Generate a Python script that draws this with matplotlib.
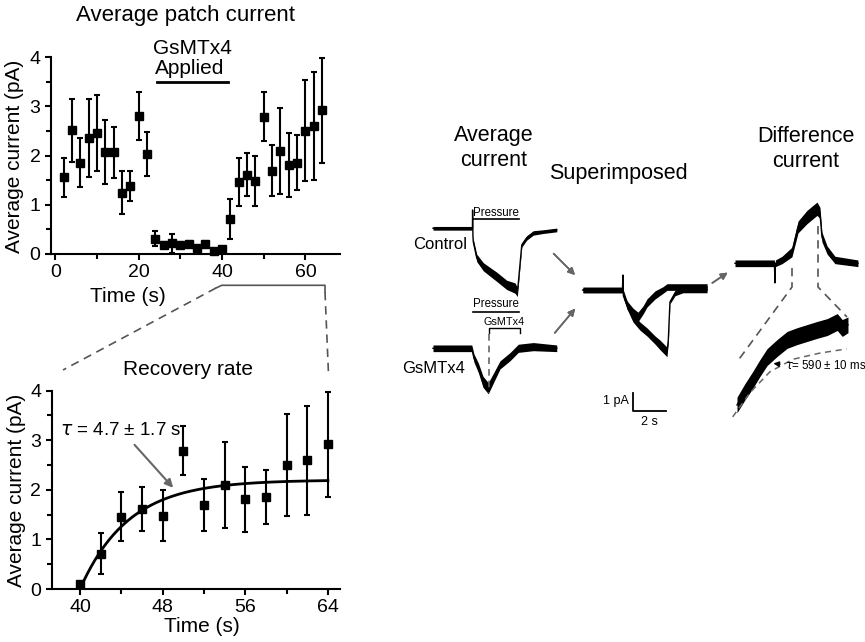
import numpy as np
import matplotlib
matplotlib.use('Agg')
import matplotlib.pyplot as plt
from matplotlib.lines import Line2D
from matplotlib.ticker import MultipleLocator

plt.rcParams['font.family'] = ['Liberation Sans', 'DejaVu Sans']
plt.rcParams['mathtext.fontset'] = 'dejavusans'

# Average patch current, one point every 2 s
time_s = [2, 4, 6, 8, 10, 12, 14, 16, 18, 20, 22, 24, 26, 28, 30, 32,
          34, 36, 38, 40, 42, 44, 46, 48, 50, 52, 54, 56, 58, 60, 62, 64]
current_pa = [1.56, 2.52, 1.86, 2.36, 2.46, 2.07, 2.07, 1.25, 1.38, 2.80, 2.03,
              0.31, 0.19, 0.22, 0.19, 0.20, 0.12, 0.21, 0.07, 0.10,
              0.71, 1.46, 1.61, 1.48, 2.79, 1.69, 2.10, 1.81, 1.86, 2.51, 2.60, 2.92]
error_pa = [0.40, 0.64, 0.50, 0.79, 0.78, 0.65, 0.52, 0.43, 0.30, 0.49, 0.45,
            0.15, 0.06, 0.19, 0.06, 0.06, 0.05, 0.06, 0.04, 0.05,
            0.41, 0.49, 0.44, 0.51, 0.50, 0.52, 0.87, 0.66, 0.55, 1.03, 1.10, 1.06]
applied_window = (24.5, 41.5)

# Recovery fit
recovery_start = 40
fit_amp = 2.2
fit_tau = 4.7

# Recorded traces (time s, current pA rel. to baseline, noise half-width pA)
ctrl_t = [0, 2.39, 2.40, 2.42, 2.44, 2.65, 3.05, 3.86, 4.47, 4.97, 5.11, 5.17, 5.38, 5.68, 6.08, 6.68, 7.50]
ctrl_i = [0, 0, 0.99, -0.42, -0.72, -1.60, -2.08, -2.62, -3.06, -3.23, -3.44, -2.96, -0.90, -0.52, -0.25, -0.18, -0.09]
ctrl_w = [0.1, 0.1, 0, 0.1, 0.15, 0.2, 0.22, 0.25, 0.25, 0.28, 0.25, 0.15, 0.12, 0.12, 0.12, 0.1, 0.1]

gsm_t = [0, 2.35, 2.48, 2.75, 3.03, 3.35, 3.66, 4.06, 4.67, 5.17, 6.08, 7.50]
gsm_i = [0, 0, -0.52, -1.06, -1.81, -2.16, -1.61, -0.90, -0.45, 0, 0.09, 0]
gsm_w = [0.18, 0.18, 0.22, 0.26, 0.3, 0.3, 0.26, 0.22, 0.22, 0.22, 0.22, 0.18]

sup_ctrl_t = [0, 2.39, 2.42, 2.45, 2.67, 3.03, 3.45, 3.88, 4.36, 4.67, 5.09, 5.17, 5.27, 5.58, 6.06, 7.52]
sup_ctrl_i = [0, 0, 0.81, -0.32, -0.81, -1.51, -1.95, -2.27, -2.70, -2.97, -3.35, -2.70, -0.65, -0.16, 0, 0]
sup_ctrl_w = [0.15, 0.15, 0, 0.15, 0.22, 0.22, 0.22, 0.22, 0.22, 0.26, 0.26, 0.15, 0.1, 0.15, 0.15, 0.15]

sup_gsm_t = [0, 2.39, 2.67, 3.03, 3.33, 3.64, 3.88, 4.36, 4.85, 5.09, 7.52]
sup_gsm_i = [0, 0, -0.81, -1.24, -1.46, -1.08, -0.70, -0.27, 0, 0.16, 0.16]
sup_gsm_w = [0.15, 0.15, 0.22, 0.26, 0.26, 0.22, 0.22, 0.22, 0.18, 0.18, 0.18]

diff_t = [0, 2.39, 2.42, 2.45, 2.85, 3.45, 3.82, 4.36, 4.97, 5.15, 5.27, 5.58, 6.06, 7.45]
diff_i = [0, 0, -1.06, 0, 0.18, 0.61, 1.96, 2.50, 2.95, 2.72, 1.42, 0.72, 0.18, 0]
diff_w = [0.18, 0.18, 0, 0.18, 0.2, 0.26, 0.32, 0.36, 0.36, 0.3, 0.26, 0.22, 0.2, 0.18]

zoom_t = [0, 0.11, 0.22, 0.32, 0.42, 0.56, 0.70, 0.84, 0.98, 1.12, 1.26, 1.40, 1.47, 1.55]
zoom_i = [0.16, 0.58, 0.96, 1.34, 1.69, 1.98, 2.24, 2.36, 2.46, 2.56, 2.65, 2.81, 2.62, 2.72]
zoom_w = [0.25, 0.26, 0.27, 0.27, 0.27, 0.27, 0.27, 0.27, 0.27, 0.27, 0.27, 0.27, 0.27, 0.25]
zoomfit_t = [-0.06, 0.18, 0.46, 0.78, 1.16, 1.53]
zoomfit_i = [-0.22, 0.55, 1.22, 1.62, 1.82, 1.95]

pressure_on, pressure_off = 2.4, 5.2
toxin_on, toxin_off = 3.39, 5.27
scale_pa, scale_s = 1, 2

W, H = 865, 642
GRAY = '#666666'


def fp(x, y):
	# pixel (from top-left) -> figure fraction
	return x / W, 1 - y / H


def style(ax):
	for s in ['top', 'right']:
		ax.spines[s].set_visible(False)
	for s in ['left', 'bottom']:
		ax.spines[s].set_linewidth(1.5)
	ax.tick_params(which='both', direction='out', width=1.5, labelsize=14)
	ax.tick_params(which='major', length=4.5, pad=3)
	ax.tick_params(which='minor', length=3.5)
	ax.yaxis.set_major_locator(MultipleLocator(1))
	ax.yaxis.set_minor_locator(MultipleLocator(0.5))
	ax.set_ylim(0, 4)


def trace(ax, x0, y0, t, i, w, lw=1.0):
	t = x0 + np.array(t)
	i = y0 + np.array(i)
	w = np.array(w)
	ax.fill_between(t, i - w, i + w, color='k', lw=0)
	ax.plot(t, i, 'k', lw=lw)


def arrow(p0, p1, color=GRAY):
	fig.add_artist(plt.annotate('', xy=fp(*p1), xytext=fp(*p0), xycoords='figure fraction',
		textcoords='figure fraction',
		arrowprops=dict(arrowstyle='-|>', color=color, lw=1.2, mutation_scale=10)))


def fline(xs, ys, dashed=True):
	fx = [x / W for x in xs]
	fy = [1 - y / H for y in ys]
	fig.add_artist(Line2D(fx, fy, transform=fig.transFigure, color='#555555', lw=1.2,
		linestyle=(0, (5, 3.5)) if dashed else '-'))


fig = plt.figure(figsize=(W / 100, H / 100), dpi=100)

t_arr = np.array(time_s)
m_arr = np.array(current_pa)
e_arr = np.array(error_pa)

# --- top: average patch current ---
ax1 = fig.add_axes([50.8 / W, 1 - 254 / H, 289.6 / W, 196.7 / H])
style(ax1)
ax1.set_xlim(-1.1, 68.4)
ax1.xaxis.set_major_locator(MultipleLocator(20))
ax1.xaxis.set_minor_locator(MultipleLocator(10))
ax1.errorbar(t_arr, m_arr, yerr=e_arr, fmt='s', color='k', ms=5.5, elinewidth=1.5,
	capsize=2.5, capthick=1.5, clip_on=False)
ax1.plot(applied_window, [3.49, 3.49], 'k', lw=2, clip_on=False)

fig.text(*fp(185, 16), 'Average patch current', ha='center', va='center', fontsize=16)
fig.text(*fp(192, 48), 'GsMTx4', ha='center', va='center', fontsize=15)
fig.text(*fp(190, 68), 'Applied', ha='center', va='center', fontsize=15)
fig.text(*fp(128, 297), 'Time (s)', ha='center', va='center', fontsize=15)
fig.text(*fp(15, 156), 'Average current (pA)', ha='center', va='center', rotation=90, fontsize=15)

# --- bottom: recovery rate ---
ax2 = fig.add_axes([51.7 / W, 1 - 589 / H, 288.3 / W, 198.3 / H])
style(ax2)
ax2.set_xlim(37.26, 65.17)
ax2.xaxis.set_major_locator(MultipleLocator(8))
ax2.xaxis.set_minor_locator(MultipleLocator(4))
sel = t_arr >= recovery_start
ax2.errorbar(t_arr[sel], m_arr[sel], yerr=e_arr[sel], fmt='s', color='k', ms=5.5,
	elinewidth=1.5, capsize=2.5, capthick=1.5, clip_on=False)
tf = np.linspace(recovery_start, t_arr[-1], 200)
ax2.plot(tf, fit_amp * (1 - np.exp(-(tf - recovery_start) / fit_tau)), 'k', lw=2)
ax2.text(38.05, 3.2, r'$\tau$ = 4.7 ± 1.7 s', ha='left', va='center', fontsize=13.5)
ax2.annotate('', xy=(49.2, 2.0), xytext=(45.1, 2.95),
	arrowprops=dict(arrowstyle='-|>', color=GRAY, lw=1.5, mutation_scale=12))

fig.text(*fp(188, 370), 'Recovery rate', ha='center', va='center', fontsize=15)
fig.text(*fp(202, 627), 'Time (s)', ha='center', va='center', fontsize=15)
fig.text(*fp(17, 490), 'Average current (pA)', ha='center', va='center', rotation=90, fontsize=15)

# bracket + connectors
fline([216, 221.7, 325, 325], [288, 285.3, 285.3, 292], dashed=False)
fline([216, 63], [288, 370])
fline([325, 328.5], [292, 374])

# --- right: traces ---
axr = fig.add_axes([380 / W, 1 - 440 / H, 485 / W, 340 / H])
axr.axis('off')
px_s, px_pa = 16.5, 18.5
axr.set_xlim(0, 485 / px_s)
axr.set_ylim(0, 340 / px_pa)

ctrl_x0, ctrl_y0 = (433 - 380) / px_s, (440 - 228.3) / px_pa
gsm_x0, gsm_y0 = (433 - 380) / px_s, (440 - 348.3) / px_pa
sup_x0, sup_y0 = (583 - 380) / px_s, (440 - 290) / px_pa
diff_x0, diff_y0 = (735 - 380) / px_s, (440 - 263.3) / px_pa

trace(axr, ctrl_x0, ctrl_y0, ctrl_t, ctrl_i, ctrl_w)
trace(axr, gsm_x0, gsm_y0, gsm_t, gsm_i, gsm_w)
trace(axr, sup_x0, sup_y0, sup_ctrl_t, sup_ctrl_i, sup_ctrl_w)
trace(axr, sup_x0, sup_y0, sup_gsm_t, sup_gsm_i, sup_gsm_w)
trace(axr, diff_x0, diff_y0, diff_t, diff_i, diff_w)

# pressure / toxin bars
axr.plot([ctrl_x0 + pressure_on, ctrl_x0 + pressure_off], [ctrl_y0 + 0.51] * 2, 'k', lw=1.2)
axr.text(ctrl_x0 + (pressure_on + pressure_off) / 2, ctrl_y0 + 0.85, 'Pressure',
	ha='center', va='center', fontsize=8.3)
axr.plot([gsm_x0 + pressure_on, gsm_x0 + pressure_off], [gsm_y0 + 1.98] * 2, 'k', lw=1.2)
axr.text(gsm_x0 + (pressure_on + pressure_off) / 2, gsm_y0 + 2.38, 'Pressure',
	ha='center', va='center', fontsize=8.3)
axr.plot([gsm_x0 + toxin_on, gsm_x0 + toxin_on, gsm_x0 + toxin_off, gsm_x0 + toxin_off],
	[gsm_y0 + 0.82, gsm_y0 + 1.11, gsm_y0 + 1.11, gsm_y0 + 0.82], 'k', lw=1.0)
axr.text(gsm_x0 + (toxin_on + toxin_off) / 2, gsm_y0 + 1.43, 'GsMTx4',
	ha='center', va='center', fontsize=7.8)
axr.plot([gsm_x0 + toxin_on] * 2, [gsm_y0 + 0.8, gsm_y0 - 2.4], color=GRAY, lw=1.2,
	linestyle=(0, (4, 3)))

axr.text(ctrl_x0 + 2.05, ctrl_y0 - 0.9, 'Control', ha='right', va='center', fontsize=12)
axr.text(gsm_x0 + 1.94, gsm_y0 - 1.08, 'GsMTx4', ha='right', va='center', fontsize=12)

# scale bar
sb_x, sb_y = (633.3 - 380) / px_s, (440 - 411) / px_pa
axr.plot([sb_x, sb_x, sb_x + scale_s], [sb_y + scale_pa, sb_y, sb_y], 'k', lw=1.3)
axr.text(sb_x - 0.25, sb_y + 0.55, '1 pA', ha='right', va='center', fontsize=9)
axr.text(sb_x + scale_s / 2, sb_y - 0.6, '2 s', ha='center', va='center', fontsize=9)

# titles
fig.text(*fp(494, 136), 'Average', ha='center', va='center', fontsize=15.5)
fig.text(*fp(494, 161), 'current', ha='center', va='center', fontsize=15.5)
fig.text(*fp(618, 173), 'Superimposed', ha='center', va='center', fontsize=15.5)
fig.text(*fp(806, 137), 'Difference', ha='center', va='center', fontsize=15.5)
fig.text(*fp(806, 162), 'current', ha='center', va='center', fontsize=15.5)

# arrows between panels
arrow((551.7, 251.7), (577, 277))
arrow((553, 335), (577, 306.5))
arrow((710, 284.5), (730, 271))

# expanded rise of the difference current
axe = fig.add_axes([720 / W, 1 - 430 / H, 145 / W, 130 / H])
axe.axis('off')
ez_s, ez_pa = 71.6, 31.3
axe.set_xlim((720 - 737) / ez_s, (865 - 737) / ez_s)
axe.set_ylim((410 - 430) / ez_pa, (410 - 300) / ez_pa)
axe.plot(zoomfit_t, zoomfit_i, color=GRAY, lw=1.1, linestyle=(0, (4, 3)))
trace(axe, 0, 0, zoom_t, zoom_i, zoom_w)
axe.annotate('', xy=(0.47, 1.5), xytext=(0.64, 1.45),
	arrowprops=dict(arrowstyle='-|>', color='k', lw=1.0, mutation_scale=8))
axe.text(0.67, 1.43, r'$\tau$= 590 ± 10 ms', ha='left', va='center', fontsize=8.3)

# dashed connectors difference -> expanded
fline([792, 792, 737], [268, 287, 362])
fline([818, 818, 847], [226, 287, 317])

fig.savefig('out.png', dpi=100)
